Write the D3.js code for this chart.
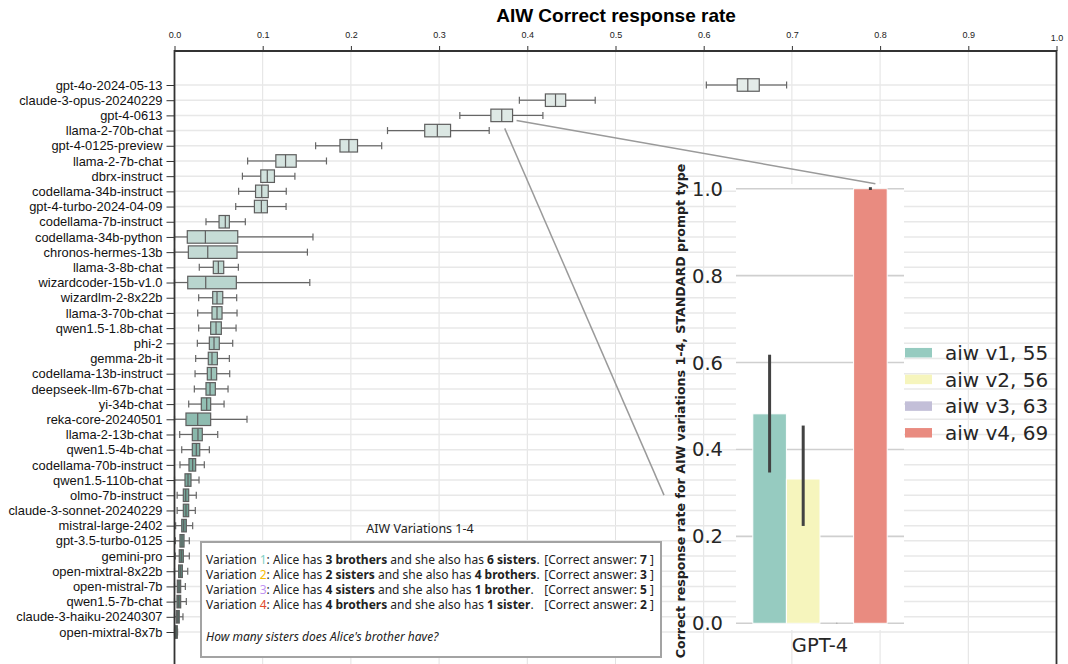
<!DOCTYPE html>
<html>
<head>
<meta charset="utf-8">
<script src="https://cdn.jsdelivr.net/npm/d3@7"></script>
<style>
  body { margin: 0; background: #fff; }
  svg { display: block; }
</style>
</head>
<body>
<svg id="chart" width="1068" height="664"></svg>
<script>
// ---- data ----
var models = ["gpt-4o-2024-05-13","claude-3-opus-20240229","gpt-4-0613","llama-2-70b-chat","gpt-4-0125-preview",
  "llama-2-7b-chat","dbrx-instruct","codellama-34b-instruct","gpt-4-turbo-2024-04-09","codellama-7b-instruct",
  "codellama-34b-python","chronos-hermes-13b","llama-3-8b-chat","wizardcoder-15b-v1.0","wizardlm-2-8x22b",
  "llama-3-70b-chat","qwen1.5-1.8b-chat","phi-2","gemma-2b-it","codellama-13b-instruct","deepseek-llm-67b-chat",
  "yi-34b-chat","reka-core-20240501","llama-2-13b-chat","qwen1.5-4b-chat","codellama-70b-instruct",
  "qwen1.5-110b-chat","olmo-7b-instruct","claude-3-sonnet-20240229","mistral-large-2402","gpt-3.5-turbo-0125",
  "gemini-pro","open-mixtral-8x22b","open-mistral-7b","qwen1.5-7b-chat","claude-3-haiku-20240307","open-mixtral-8x7b"];

var whiskLo = [.603,.391,.3235,.2415,.160,.0829,.077,.0727,.0694,.0357,0,0,.0281,0,.0274,.0263,.0274,.0259,.024,.0233,
  .0225,.0161,0,.0059,.0082,.0062,0,.003,.003,.0013,.001,.0009,0,0,0,0,0];
var q1 = [.638,.4205,.3587,.2837,.1876,.1149,.0978,.0919,.0906,.0505,.0145,.0157,.044,.015,.0433,.0425,.041,.0395,.0383,.0372,
  .0357,.0304,.013,.0202,.0202,.0164,.0119,.010,.010,.0082,.0062,.0054,.0047,.0032,.0028,.002,.0002];
var med = [.650,.432,.371,.298,.1977,.1259,.1052,.0989,.0985,.0576,.035,.0377,.0497,.0354,.0482,.0482,.0471,.0448,.0425,.0417,
  .0403,.0365,.0263,.0266,.0247,.0206,.0153,.0127,.013,.0104,.0085,.0077,.0066,.0051,.0047,.0036,.0015];
var q3 = [.663,.4435,.3833,.313,.2075,.138,.1133,.1063,.1053,.0622,.0717,.0709,.0558,.0701,.0547,.0539,.0531,.0508,.0486,.0478,
  .0463,.041,.041,.0315,.0286,.024,.0187,.0161,.0161,.0134,.0108,.010,.0089,.007,.007,.0054,.0032];
var whiskHi = [.694,.477,.4177,.3568,.2349,.1723,.1365,.1267,.1265,.0803,.157,.1507,.0724,.1534,.0705,.0709,.0698,.066,.0622,.0626,
  .0607,.0562,.0822,.049,.0395,.0338,.0278,.0247,.0236,.0206,.0168,.0168,.015,.0123,.0134,.0096,.0035];

var xTicks = [0, 0.1, 0.2, 0.3, 0.4, 0.5, 0.6, 0.7, 0.8, 0.9, 1.0];

var insetCategory = "GPT-4";
var variants = ["aiw v1, 55", "aiw v2, 56", "aiw v3, 63", "aiw v4, 69"];
var gpt4Rate = [0.482, 0.332, 0.0, 1.0];
var gpt4CiLo = [0.347, 0.224, 0.0, 0.997];
var gpt4CiHi = [0.618, 0.455, 0.0, 1.0];
var insetTicks = [0, 0.2, 0.4, 0.6, 0.8, 1.0];

var varNums = ["1", "2", "3", "4"];
var varFirst = ["3 brothers", "2 sisters", "4 sisters", "4 brothers"];
var varSecond = ["6 sisters", "4 brothers", "1 brother", "1 sister"];
var varAnswers = ["7", "3", "5", "2"];

// ---- layout ----
var svg = d3.select("#chart");
var plot = {left: 174.5, right: 1056.5, top: 51, bottom: 664};
var inset = {left: 736, right: 904, top: 184, bottom: 630};

var x = d3.scaleLinear().domain([0, 1]).range([plot.left, plot.right]);
var y = d3.scalePoint().domain(models).range([85, 632]);

var boxColor = d3.scaleLinear()
    .domain([0, 0.3, 0.6, 0.85, 1])
    .range(["#e4ece9", "#c4dbd5", "#90beb2", "#639587", "#46685e"])
    .interpolate(d3.interpolateRgb);

// title
svg.append("text")
    .attr("x", 616).attr("y", 22)
    .attr("text-anchor", "middle")
    .style("font", "bold 19px 'Liberation Sans', Arial, sans-serif")
    .text("AIW Correct response rate");

// grid
var grid = svg.append("g");
grid.selectAll(".vg").data(xTicks).enter().append("line")
    .attr("x1", function(d) { return x(d); }).attr("x2", function(d) { return x(d); })
    .attr("y1", plot.top).attr("y2", plot.bottom)
    .attr("stroke", "#e2e2e2").attr("stroke-width", 1);
grid.selectAll(".hg").data(models).enter().append("line")
    .attr("x1", plot.left).attr("x2", plot.right)
    .attr("y1", function(d) { return y(d); }).attr("y2", function(d) { return y(d); })
    .attr("stroke", "#e8e8e8").attr("stroke-width", 1.5);

// top axis
var xAxis = d3.axisTop(x).tickValues(xTicks).tickSize(5).tickPadding(8)
    .tickFormat(d3.format(".1f"));
var gx = svg.append("g").attr("transform", "translate(0," + plot.top + ")").call(xAxis);
gx.select(".domain").remove();
gx.selectAll("line").attr("stroke", "#333");
gx.selectAll("text").style("font", "9px 'Liberation Sans', Arial, sans-serif").attr("fill", "#222");
gx.selectAll(".tick").filter(function(d) { return d === 1; }).select("text").attr("dy", "0.3em");

// left axis
var yAxis = d3.axisLeft(y).tickSize(8).tickPadding(4);
var gy = svg.append("g").attr("transform", "translate(" + plot.left + ",0)").call(yAxis);
gy.select(".domain").remove();
gy.selectAll("line").attr("stroke", "#333");
gy.selectAll("text").style("font", "12.9px 'Liberation Sans', Arial, sans-serif").attr("fill", "#111");

// boxes
var bh = 12.5, capH = 7;
var boxes = svg.append("g").selectAll(".box").data(models).enter().append("g")
    .attr("transform", function(d) { return "translate(0," + y(d) + ")"; });

boxes.append("line")
    .attr("x1", function(d, i) { return x(whiskLo[i]); }).attr("x2", function(d, i) { return x(q1[i]); })
    .attr("stroke", "#666").attr("stroke-width", 1.2);
boxes.append("line")
    .attr("x1", function(d, i) { return x(q3[i]); }).attr("x2", function(d, i) { return x(whiskHi[i]); })
    .attr("stroke", "#666").attr("stroke-width", 1.2);
boxes.append("line")
    .attr("x1", function(d, i) { return x(whiskLo[i]); }).attr("x2", function(d, i) { return x(whiskLo[i]); })
    .attr("y1", -capH / 2).attr("y2", capH / 2)
    .attr("stroke", "#666").attr("stroke-width", 1.2);
boxes.append("line")
    .attr("x1", function(d, i) { return x(whiskHi[i]); }).attr("x2", function(d, i) { return x(whiskHi[i]); })
    .attr("y1", -capH / 2).attr("y2", capH / 2)
    .attr("stroke", "#666").attr("stroke-width", 1.2);
boxes.append("rect")
    .attr("x", function(d, i) { return x(q1[i]); })
    .attr("y", -bh / 2)
    .attr("width", function(d, i) { return Math.max(0.5, x(q3[i]) - x(q1[i])); })
    .attr("height", bh)
    .attr("fill", function(d, i) { return boxColor(i / (models.length - 1)); })
    .attr("stroke", "#5e5e5e").attr("stroke-width", 1.2);
boxes.append("line")
    .attr("x1", function(d, i) { return x(med[i]); }).attr("x2", function(d, i) { return x(med[i]); })
    .attr("y1", -bh / 2).attr("y2", bh / 2)
    .attr("stroke", "#5e5e5e").attr("stroke-width", 1.2);

// frame
svg.append("path")
    .attr("d", "M" + plot.left + "," + plot.bottom + "V" + plot.top + "H" + plot.right + "V" + plot.bottom)
    .attr("fill", "none").attr("stroke", "#333").attr("stroke-width", 1.8);

// ---- text box ----
var tb = svg.append("g");
tb.append("text").attr("x", 420).attr("y", 533).attr("text-anchor", "middle")
    .style("font", "12.5px 'Noto Sans', 'Open Sans', sans-serif").attr("fill", "#222")
    .text("AIW Variations 1-4");
tb.append("rect").attr("x", 201).attr("y", 542).attr("width", 460).attr("height", 115)
    .attr("fill", "#fff").attr("stroke", "#a3a3a3").attr("stroke-width", 2);

var numColors = ["#7fd0c6", "#f5bb00", "#c094f2", "#e0492d"];
var tbFont = "12px 'Noto Sans', 'Open Sans', sans-serif";
varNums.forEach(function(n, i) {
  var ty = 563.5 + i * 15.3;
  var t = tb.append("text").attr("x", 206).attr("y", ty).style("font", tbFont).attr("fill", "#222");
  t.append("tspan").text("Variation ");
  t.append("tspan").attr("fill", numColors[i]).text(n);
  t.append("tspan").text(": Alice has ");
  t.append("tspan").attr("font-weight", "bold").text(varFirst[i]);
  t.append("tspan").text(" and she also has ");
  t.append("tspan").attr("font-weight", "bold").text(varSecond[i]);
  t.append("tspan").text(".");
  var a = tb.append("text").attr("x", 654).attr("y", ty).attr("text-anchor", "end")
      .style("font", tbFont).attr("fill", "#222");
  a.append("tspan").text("[Correct answer: ");
  a.append("tspan").attr("font-weight", "bold").text(varAnswers[i]);
  a.append("tspan").text(" ]");
});
tb.append("text").attr("x", 206).attr("y", 640.5)
    .style("font", "italic 12px 'Noto Sans', 'Open Sans', sans-serif").attr("fill", "#222")
    .text("How many sisters does Alice's brother have?");

// ---- inset bar chart ----
var ix = d3.scaleBand().domain([insetCategory]).range([inset.left, inset.right]).paddingInner(0).paddingOuter(0.125);
var ihue = d3.scaleBand().domain(variants).range([ix(insetCategory), ix(insetCategory) + ix.bandwidth()]);
var iy = d3.scaleLinear().domain([0, 1]).range([623.3, 188.7]);
var barColors = ["#96cbc0", "#f6f5bd", "#c3bfd8", "#e98b80"];

var ig = svg.append("g");
ig.append("rect").attr("x", inset.left).attr("y", inset.top)
    .attr("width", inset.right - inset.left).attr("height", inset.bottom - inset.top)
    .attr("fill", "#fff");
ig.selectAll(".ig").data(insetTicks).enter().append("line")
    .attr("x1", inset.left).attr("x2", inset.right)
    .attr("y1", function(d) { return iy(d); }).attr("y2", function(d) { return iy(d); })
    .attr("stroke", "#cfcfcf").attr("stroke-width", 1.6);
ig.selectAll(".itick").data(insetTicks).enter().append("text")
    .attr("x", inset.left - 13).attr("y", function(d) { return iy(d); })
    .attr("dy", "0.36em").attr("text-anchor", "end")
    .style("font", "19.5px 'DejaVu Sans', sans-serif").attr("fill", "#262626")
    .text(d3.format(".1f"));
ig.selectAll(".bar").data(variants).enter().append("rect")
    .attr("x", function(d) { return ihue(d); })
    .attr("y", function(d, i) { return iy(gpt4Rate[i]); })
    .attr("width", ihue.bandwidth())
    .attr("height", function(d, i) { return iy(0) - iy(gpt4Rate[i]); })
    .attr("fill", function(d, i) { return barColors[i]; })
    .attr("stroke", "#fff").attr("stroke-width", 1);
ig.selectAll(".err").data(variants).enter().append("line")
    .attr("x1", function(d) { return ihue(d) + ihue.bandwidth() / 2; })
    .attr("x2", function(d) { return ihue(d) + ihue.bandwidth() / 2; })
    .attr("y1", function(d, i) { return iy(gpt4CiLo[i]); })
    .attr("y2", function(d, i) { return iy(gpt4CiHi[i]) - (gpt4Rate[i] > 0 && gpt4CiHi[i] - gpt4CiLo[i] < 0.01 ? 1.5 : 0); })
    .attr("stroke", function(d, i) { return gpt4Rate[i] > 0 ? "#424242" : "#aaa"; })
    .attr("stroke-width", function(d, i) { return gpt4Rate[i] > 0 ? 3 : 1.5; })
    .attr("stroke-linecap", function(d, i) { return gpt4Rate[i] > 0 ? "butt" : "round"; });
ig.append("text").attr("x", ix(insetCategory) + ix.bandwidth() / 2).attr("y", 645).attr("dy", "0.36em")
    .attr("text-anchor", "middle")
    .style("font", "19.5px 'DejaVu Sans', sans-serif").attr("fill", "#262626")
    .text(insetCategory);
ig.append("text")
    .attr("transform", "translate(685," + ((iy(0) + iy(1)) / 2 + 5) + ") rotate(-90)")
    .attr("text-anchor", "middle")
    .style("font", "bold 12.6px 'DejaVu Sans', sans-serif").attr("fill", "#222")
    .text("Correct response rate for AIW variations 1-4, STANDARD prompt type");

// legend
var lg = ig.selectAll(".lg").data(variants).enter().append("g")
    .attr("transform", function(d, i) { return "translate(905," + (352.7 + i * 26.7) + ")"; });
lg.append("rect").attr("x", 0).attr("y", -4.75).attr("width", 27).attr("height", 9.5)
    .attr("fill", function(d, i) { return barColors[i]; });
lg.append("text").attr("x", 40).attr("dy", "0.36em")
    .style("font", "20px 'DejaVu Sans', sans-serif").attr("fill", "#262626")
    .text(function(d) { return d; });

// connector lines from gpt-4-0613 to the inset
var src = models[2];
var conn = [
  [[x(q3[2]) + 4, y(src) + 5], [ihue(variants[3]) + ihue.bandwidth() / 2 + 5, iy(1) - 5]],
  [[x(med[2]) + 3, y(src) + 13], [inset.left - 72, iy(0.295)]]
];
svg.selectAll(".conn").data(conn).enter().append("line")
    .attr("x1", function(d) { return d[0][0]; }).attr("y1", function(d) { return d[0][1]; })
    .attr("x2", function(d) { return d[1][0]; }).attr("y2", function(d) { return d[1][1]; })
    .attr("stroke", "#9a9a9a").attr("stroke-width", 1.5);
</script>
</body>
</html>
